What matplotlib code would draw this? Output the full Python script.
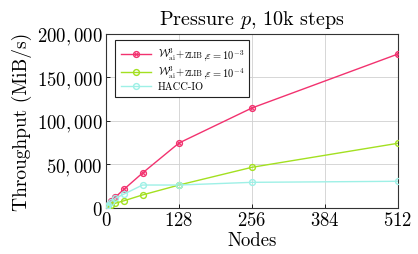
import matplotlib
matplotlib.use("Agg")
import matplotlib.pyplot as plt
from matplotlib.ticker import FuncFormatter, FixedLocator
from matplotlib.offsetbox import (AnchoredOffsetbox, HPacker, VPacker,
                                  TextArea, DrawingArea)
from matplotlib.lines import Line2D

plt.rcParams['font.family'] = 'serif'
plt.rcParams['font.serif'] = ['cmr10']
plt.rcParams['mathtext.fontset'] = 'cm'
plt.rcParams['axes.unicode_minus'] = False
plt.rcParams['axes.formatter.use_mathtext'] = True

nodes = [1, 2, 4, 8, 16, 32, 64, 128, 256, 512]
w_e3 = [700, 1600, 3500, 8000, 12300, 21800, 40200, 74700, 115000, 177000]
w_e4 = [300, 700, 1500, 3000, 5400, 8400, 15000, 26400, 46800, 74400]
hacc = [900, 1900, 3800, 7000, 11100, 16100, 26400, 26400, 29500, 30700]

series = [w_e3, w_e4, hacc]
colors = ['#f2326f', '#a3e020', '#9ef0e6']
label_parts = [
    (r'$\mathcal{W}^3_{\mathrm{ai}}$+', 'ZLIB', r',$\varepsilon=10^{-3}$'),
    (r'$\mathcal{W}^3_{\mathrm{ai}}$+', 'ZLIB', r',$\varepsilon=10^{-4}$'),
    ('HACC-IO', None, None),
]

fig = plt.figure(figsize=(4.18, 2.55), dpi=100)
ax = fig.add_axes([0.2536, 0.1804, 0.6986, 0.6824])

for i, (ys, c) in enumerate(zip(series, colors)):
    ax.plot(nodes, ys, color=c, lw=1.0, marker='o', ms=4.2,
            mfc='none', mec=c, mew=1.0, zorder=3)
    if i == 0:
        ax.plot(nodes, ys, color=c, lw=0, marker='x', ms=2.8,
                mec=c, mew=0.8, zorder=3)

ax.set_xlim(0, 512)
ax.set_ylim(0, 200000)
ax.xaxis.set_major_locator(FixedLocator([0, 128, 256, 384, 512]))
ax.yaxis.set_major_locator(FixedLocator([0, 50000, 100000, 150000, 200000]))

def yfmt(v, pos):
    v = int(round(v))
    if v == 0:
        return '$0$'
    return '$' + '{:,}'.format(v) + '$'

ax.yaxis.set_major_formatter(FuncFormatter(yfmt))
ax.xaxis.set_major_formatter(FuncFormatter(lambda v, p: '$%d$' % int(v)))
ax.tick_params(direction='in', length=3, width=0.6, labelsize=13.5, pad=2.5)
ax.grid(True, color='#d0d0d0', lw=0.6)
ax.set_axisbelow(True)
for s in ax.spines.values():
    s.set_linewidth(0.8)
    s.set_color('#333333')

ax.set_xlabel('Nodes', fontsize=13.5, labelpad=1)
ax.set_ylabel('Throughput (MiB/s)', fontsize=14, labelpad=3)
ax.set_title(r'Pressure $p$, 10k steps', fontsize=14.5, pad=7)

# legend built from boxes so that ZLIB can be set in small capitals
rows = []
for (p1, p2, p3), c in zip(label_parts, colors):
    da = DrawingArea(22, 7, 0, 0)
    da.add_artist(Line2D([0, 22], [3.5, 3.5], color=c, lw=1.0))
    da.add_artist(Line2D([11], [3.5], color=c, lw=0, marker='o', ms=4.2,
                         mfc='none', mec=c, mew=1.0))
    if c == colors[0]:
        da.add_artist(Line2D([11], [3.5], color=c, lw=0, marker='x', ms=2.8,
                             mec=c, mew=0.8))
    parts = [TextArea(p1, textprops=dict(size=7.5))]
    if p2:
        parts.append(TextArea(p2, textprops=dict(size=5.6)))
        parts.append(TextArea(p3, textprops=dict(size=7.5)))
    txt = HPacker(children=parts, align='baseline', pad=0, sep=0)
    rows.append(HPacker(children=[da, txt], align='center', pad=0, sep=5))
vp = VPacker(children=rows, align='left', pad=0, sep=1)
anch = AnchoredOffsetbox(loc='upper left', child=vp, pad=0.4, borderpad=0,
                         frameon=True, bbox_to_anchor=(0.031, 0.965),
                         bbox_transform=ax.transAxes)
anch.patch.set_boxstyle('square', pad=0)
anch.patch.set_edgecolor('#222222')
anch.patch.set_linewidth(0.8)
anch.patch.set_facecolor('white')
anch.set_zorder(5)
ax.add_artist(anch)

fig.savefig('out.png', dpi=100)
